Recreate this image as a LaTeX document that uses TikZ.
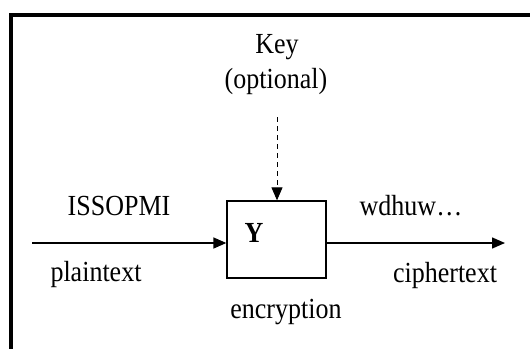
\documentclass[tikz,border=0pt]{standalone}
\usepackage{fontspec}
\setmainfont{Liberation Serif}
\usetikzlibrary{arrows.meta}
% labels are set a little taller than wide
\newcommand{\tall}[1]{\scalebox{1}[1.12]{#1}}
\tikzset{
  lbl/.style={inner sep=0pt, anchor=base, font=\fontsize{26}{30}\selectfont},
  flow/.style={line width=1.4pt, -{Triangle[length=13pt,width=11pt]}},
  keyflow/.style={line width=1pt, dash pattern=on 5pt off 4pt, -{Triangle[length=13pt,width=11pt]}},
  blockbox/.style={draw, line width=1.3pt, minimum width=99pt, minimum height=77pt, inner sep=0pt}
}
\begin{document}
\begin{tikzpicture}[x=1pt,y=-1pt]
  \clip (0,0) rectangle (530,348);
  \fill[white] (0,0) rectangle (530,348);
  % outer frame (top and left edges)
  \draw[line width=4pt] (11,360) -- (11,15) -- (545,15);

  % encryption block
  \node[blockbox] (enc) at (276.5,239.5) {};
  \node[lbl, font=\fontsize{26}{30}\selectfont\bfseries] (y) at (254,242) {\tall{Y}};

  % plaintext in, ciphertext out
  \coordinate (in) at (32,243);
  \coordinate (out) at (505,243);
  \draw[flow] (in) -- (enc.west |- in);
  \draw[flow] (enc.east |- in) -- (out);

  % optional key
  \coordinate (keyend) at (277,117);
  \draw[keyflow] (keyend) -- (enc.north -| keyend);

  % labels
  \node[lbl] (key) at (277,53) {\tall{Key}};
  \node[lbl] (opt) at (276,88) {\tall{(optional)}};
  \node[lbl] (pt) at (119,215) {\tall{ISSOPMI}};
  \node[lbl] (ptname) at (96,281) {\tall{plaintext}};
  \node[lbl] (ct) at (411,215) {\tall{wdhuw…}};
  \node[lbl] (ctname) at (445,282) {\tall{ciphertext}};
  \node[lbl] (encname) at (286,318) {\tall{encryption}};
\end{tikzpicture}
\end{document}
